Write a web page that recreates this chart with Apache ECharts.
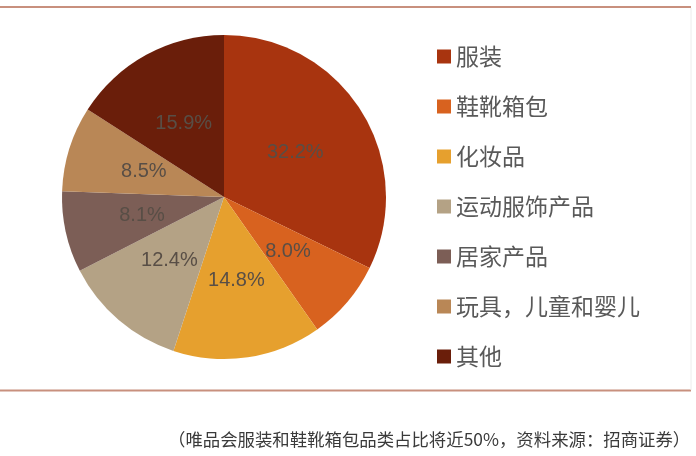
<!DOCTYPE html>
<html>
<head>
<meta charset="utf-8">
<script src="https://cdn.jsdelivr.net/npm/echarts@6/dist/echarts.min.js"></script>
<style>
html,body{margin:0;padding:0;background:#fff;}
#chart{width:696px;height:456px;}
</style>
</head>
<body>
<div id="chart"></div>
<script>
var categories = ['服装', '鞋靴箱包', '化妆品', '运动服饰产品', '居家产品', '玩具，儿童和婴儿', '其他'];
var shares = [32.2, 8.0, 14.8, 12.4, 8.1, 8.5, 15.9];
var sliceColors = ['#A8340F', '#D8621F', '#E6A02E', '#B4A285', '#7C5E56', '#B98756', '#6A1E0A'];
var caption = '（唯品会服装和鞋靴箱包品类占比将近50%，资料来源：招商证券）';

var chart = echarts.init(document.getElementById('chart'), null, {renderer: 'canvas'});
var cjk = '"Noto Sans CJK SC", sans-serif';
chart.setOption({
  animation: false,
  backgroundColor: '#ffffff',
  color: sliceColors,
  title: {
    text: caption,
    left: 163,
    top: 426,
    textStyle: {fontSize: 17.4, fontWeight: 'normal', color: '#3a3a3a', fontFamily: cjk}
  },
  legend: {
    orient: 'vertical',
    left: 432,
    top: 40,
    itemWidth: 14,
    itemHeight: 14,
    itemGap: 27,
    itemTextGap: 9,
    icon: 'rect',
    data: categories,
    textStyle: {fontSize: 23, color: '#595959', fontFamily: cjk}
  },
  graphic: [
    {type: 'line', shape: {x1: 0, y1: 7, x2: 691, y2: 7}, style: {stroke: '#c8907e', lineWidth: 2}},
    {type: 'line', shape: {x1: 0, y1: 390.5, x2: 691, y2: 390.5}, style: {stroke: '#c8907e', lineWidth: 2}},
    {type: 'line', shape: {x1: 691, y1: 8, x2: 691, y2: 390}, style: {stroke: '#ececec', lineWidth: 1}}
  ],
  series: [{
    type: 'pie',
    center: [224, 197],
    radius: 162,
    startAngle: 90,
    clockwise: true,
    avoidLabelOverlap: false,
    data: categories.map(function (c, i) { return {name: c, value: shares[i]}; }),
    label: {
      show: true,
      position: 'inside',
      formatter: function (p) { return p.value.toFixed(1) + '%'; },
      fontSize: 20,
      color: '#584e46',
      fontFamily: '"Liberation Sans", Arial, sans-serif'
    },
    labelLine: {show: false},
    itemStyle: {borderWidth: 0},
    emphasis: {disabled: true}
  }]
});
</script>
</body>
</html>
